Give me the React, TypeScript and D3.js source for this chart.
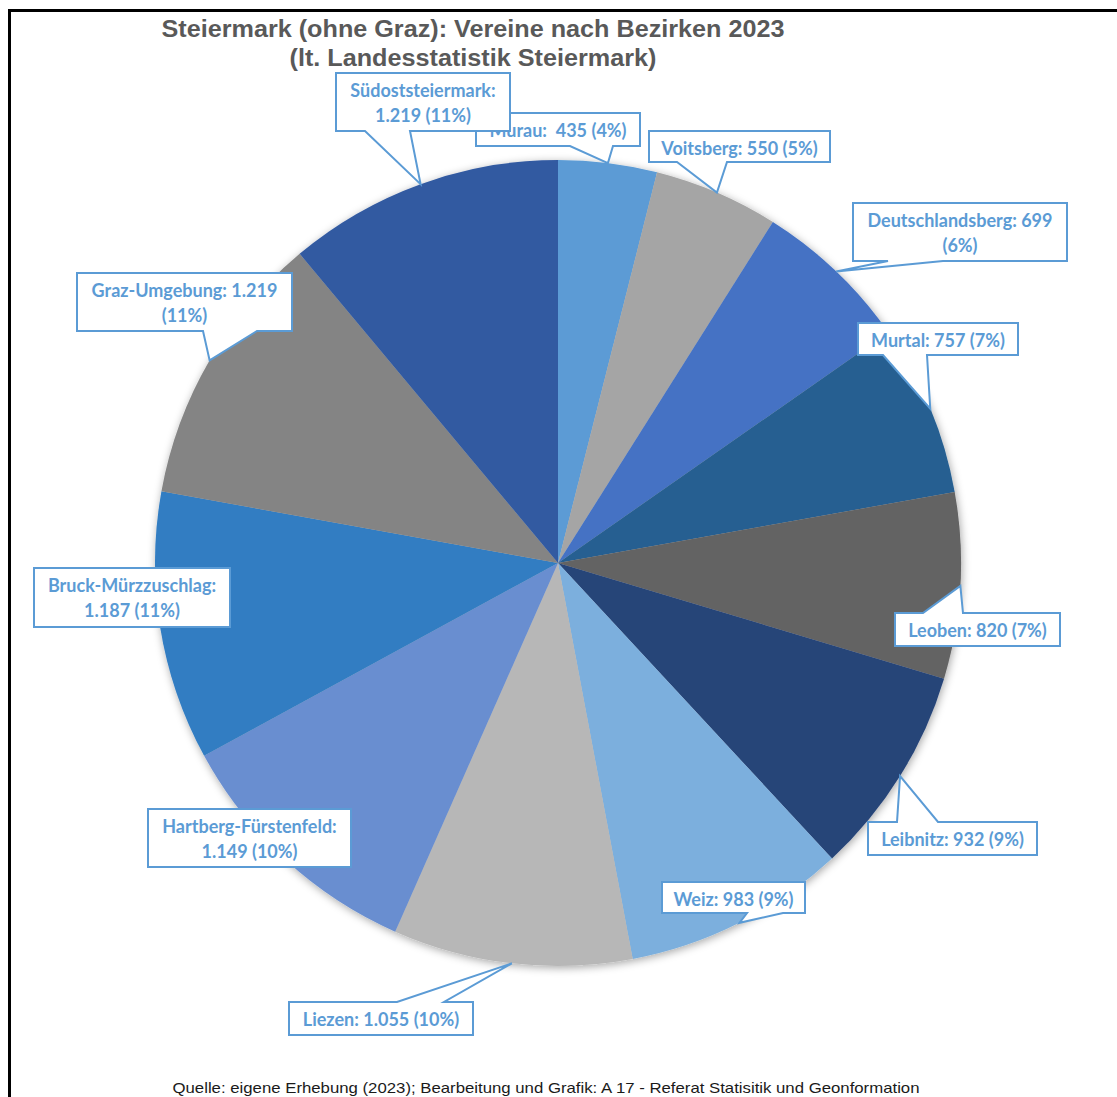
import React, { useEffect, useRef } from 'react';
import * as d3 from 'd3';

// districts, clockwise from 12 o'clock
const districts = [
  'Murau',
  'Voitsberg',
  'Deutschlandsberg',
  'Murtal',
  'Leoben',
  'Leibnitz',
  'Weiz',
  'Liezen',
  'Hartberg-Fürstenfeld',
  'Bruck-Mürzzuschlag',
  'Graz-Umgebung',
  'Südoststeiermark'
];
const clubs = [435, 550, 699, 757, 820, 932, 983, 1055, 1149, 1187, 1219, 1219];
// percentages as printed on the chart
const shares = [4, 5, 6, 7, 7, 9, 9, 10, 10, 11, 11, 11];
const sliceColors = [
  '#5B9BD5', '#A5A5A5', '#4472C4', '#255E91', '#636363', '#264478',
  '#7CAFDD', '#B7B7B7', '#698ED0', '#327DC2', '#848484', '#335AA1'
];
// how the label text breaks into lines
const labelBreaks = [
  'one', 'one', 'afterValue', 'one', 'one', 'one',
  'one', 'one', 'afterName', 'afterName', 'afterValue', 'afterName'
];
// callout boxes: [x0, y0, x1, y1], pointer edge and pointer base
const labelBoxes: [number, number, number, number][] = [
  [476, 113, 640, 146],
  [649, 131, 830, 162],
  [853, 203, 1067, 261],
  [858, 323, 1018, 355],
  [895, 613, 1060, 646],
  [868, 822, 1037, 855],
  [662, 882, 805, 913],
  [289, 1002, 473, 1035],
  [148, 809, 351, 867],
  [34, 568, 230, 627],
  [77, 273, 292, 331],
  [336, 73, 510, 131]
];
const pointerEdge = ['bottom', 'bottom', 'bottom', 'bottom', 'top', 'top', 'bottom', 'top', 'none', 'none', 'bottom', 'bottom'];
const pointerBase: [number, number][] = [
  [570, 613], [677, 727], [888, 943], [883, 927], [923, 963], [897, 938],
  [747, 783], [397, 444], [0, 0], [0, 0], [203, 257], [365, 410]
];

const TITLE_1 = 'Steiermark (ohne Graz): Vereine nach Bezirken 2023';
const TITLE_2 = '(lt. Landesstatistik Steiermark)';
const SOURCE = 'Quelle: eigene Erhebung (2023); Bearbeitung und Grafik: A 17 - Referat Statisitik und Geonformation';

const fmt = (v: number) => d3.format(',')(v).replace(/,/g, '.');

export default function App(): JSX.Element {
  const ref = useRef<SVGSVGElement>(null);

  useEffect(() => {
    const el = ref.current;
    if (el == null) return;
    const svg = d3.select(el);
    svg.selectAll('*').remove();

    const W = 1117;
    const H = 1097;
    const cx = 558;
    const cy = 563;
    const r = 403;
    const LABEL_COLOR = '#5B9BD5';

    const defs = svg.append('defs');
    const f = defs.append('filter').attr('id', 'pieShadow').attr('x', '-10%').attr('y', '-10%').attr('width', '120%').attr('height', '120%');
    f.append('feDropShadow').attr('dx', 1).attr('dy', 2).attr('stdDeviation', 4).attr('flood-color', '#000').attr('flood-opacity', 0.35);

    svg.append('rect').attr('width', W).attr('height', H).attr('fill', 'white');

    // frame
    svg.append('rect')
      .attr('x', 9.5).attr('y', 10.5)
      .attr('width', 1130).attr('height', 1110)
      .attr('fill', 'none').attr('stroke', '#000').attr('stroke-width', 3);

    // titles
    svg.append('text')
      .attr('x', 473).attr('y', 37)
      .attr('text-anchor', 'middle')
      .attr('font-family', 'Liberation Sans, Arial, sans-serif')
      .attr('font-weight', 'bold').attr('font-size', 23)
      .attr('fill', '#595959')
      .attr('textLength', 623).attr('lengthAdjust', 'spacingAndGlyphs')
      .text(TITLE_1);
    svg.append('text')
      .attr('x', 473).attr('y', 66)
      .attr('text-anchor', 'middle')
      .attr('font-family', 'Liberation Sans, Arial, sans-serif')
      .attr('font-weight', 'bold').attr('font-size', 23)
      .attr('fill', '#595959')
      .attr('textLength', 367).attr('lengthAdjust', 'spacingAndGlyphs')
      .text(TITLE_2);

    const data = districts.map((d, i) => ({ name: d, value: clubs[i], i }));
    const pie = d3.pie<{ name: string; value: number; i: number }>()
      .sort(null)
      .value((d) => d.value)
      .startAngle(0)
      .endAngle(2 * Math.PI);
    const arcs = pie(data);
    const arc = d3.arc<d3.PieArcDatum<{ name: string; value: number; i: number }>>()
      .innerRadius(0).outerRadius(r);
    const rim = d3.arc<d3.PieArcDatum<{ name: string; value: number; i: number }>>()
      .innerRadius(r).outerRadius(r);

    const g = svg.append('g').attr('transform', `translate(${cx},${cy})`);
    g.append('g').attr('filter', 'url(#pieShadow)')
      .selectAll('path')
      .data(arcs)
      .enter()
      .append('path')
      .attr('d', arc)
      .attr('fill', (d) => sliceColors[d.data.i]);

    // callouts
    const lg = svg.append('g');
    arcs.forEach((a) => {
      const i = a.data.i;
      const [x0, y0, x1, y1] = labelBoxes[i];
      const [tx, ty] = rim.centroid(a);
      const tipX = cx + tx;
      const tipY = cy + ty;
      const [b0, b1] = pointerBase[i];
      let p = '';
      if (pointerEdge[i] === 'bottom') {
        p = `M${x0},${y0}H${x1}V${y1}H${b1}L${tipX},${tipY}L${b0},${y1}H${x0}Z`;
      } else if (pointerEdge[i] === 'top') {
        p = `M${x0},${y0}H${b0}L${tipX},${tipY}L${b1},${y0}H${x1}V${y1}H${x0}Z`;
      } else {
        p = `M${x0},${y0}H${x1}V${y1}H${x0}Z`;
      }
      lg.append('path')
        .attr('d', p)
        .attr('fill', 'white')
        .attr('stroke', LABEL_COLOR)
        .attr('stroke-width', 2)
        .attr('stroke-linejoin', 'miter');

      const pct = `(${shares[i]}%)`;
      const val = fmt(a.data.value);
      let lines: string[];
      const sep = a.data.name === 'Murau' ? ':  ' : ': ';
      if (labelBreaks[i] === 'afterValue') {
        lines = [`${a.data.name}${sep}${val}`, pct];
      } else if (labelBreaks[i] === 'afterName') {
        lines = [`${a.data.name}:`, `${val} ${pct}`];
      } else {
        lines = [`${a.data.name}${sep}${val} ${pct}`];
      }
      const mx = (x0 + x1) / 2;
      lines.forEach((ln, k) => {
        lg.append('text')
          .attr('x', mx)
          .attr('y', y0 + 24 + k * 25)
          .attr('text-anchor', 'middle')
          .attr('font-family', 'Lato, "Open Sans", sans-serif')
          .attr('font-weight', 'bold')
          .attr('font-size', 18)
          .attr('fill', LABEL_COLOR)
          .style('white-space', 'pre')
          .text(ln);
      });
    });

    // source
    svg.append('text')
      .attr('x', 546).attr('y', 1093)
      .attr('text-anchor', 'middle')
      .attr('font-family', 'Liberation Sans, Arial, sans-serif')
      .attr('font-size', 15)
      .attr('fill', '#1a1a1a')
      .attr('textLength', 747).attr('lengthAdjust', 'spacingAndGlyphs')
      .text(SOURCE);
  });

  return (
    <svg
      ref={ref}
      width={1117}
      height={1097}
      style={{ position: 'absolute', left: 0, top: 0, display: 'block' }}
    />
  );
}
